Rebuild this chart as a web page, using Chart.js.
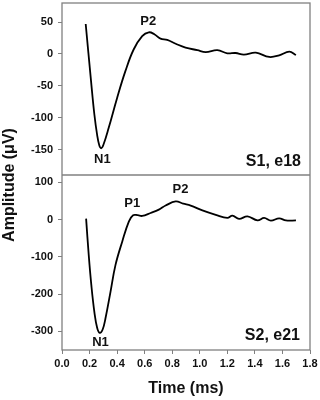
<!DOCTYPE html>
<html><head><meta charset="utf-8">
<script src="https://cdn.jsdelivr.net/npm/chart.js@4"></script>
<style>html,body{margin:0;padding:0;background:#fff}#wrap{position:relative;width:320px;height:400px}</style>
</head><body><div id="wrap"><canvas id="c" width="320" height="400"></canvas></div>
<script>
// ---- data ----
const timeS1 = [0.172,0.211,0.235,0.255,0.270,0.284,0.300,0.339,0.400,0.460,0.520,0.582,0.630,0.670,0.715,0.764,0.825,0.897,0.982,1.043,1.128,1.200,1.260,1.320,1.407,1.504,1.576,1.650,1.698];
const ampS1  = [47,-43,-95,-127,-143,-148,-143,-116,-69,-27,7,28,34,31,24,22,16,10,6,3,6,1,1.5,-1,2,-4.7,-2.2,3.6,-1.6];
const timeS2 = [0.175,0.194,0.213,0.235,0.255,0.274,0.295,0.315,0.352,0.388,0.437,0.485,0.516,0.550,0.582,0.643,0.703,0.752,0.825,0.880,0.934,1.019,1.116,1.200,1.237,1.285,1.346,1.419,1.467,1.516,1.576,1.625,1.698];
const ampS2  = [3,-95,-176,-248,-290,-304,-295,-266,-194,-122,-59,-5,12,12,10,18,27,38,49,43,38,25,13,4.6,10.8,2,9,-2,4.6,-2.7,3.6,-2,-2];
const xTicks = [0,0.2,0.4,0.6,0.8,1.0,1.2,1.4,1.6,1.8];
const yTicksS1 = [-150,-100,-50,0,50];
const yTicksS2 = [-300,-200,-100,0,100];
const peakNamesS1 = ['N1','P2'];
const peakTimeS1  = [0.293,0.626];
const peakAmpS1   = [-166,51];
const peakNamesS2 = ['N1','P1','P2'];
const peakTimeS2  = [0.279,0.51,0.86];
const peakAmpS2   = [-330,45,81];
const panelNames  = ['S1, e18','S2, e21'];
const xTitle = 'Time (ms)';
const yTitle = 'Amplitude (\u03bcV)';

const FONT = "'Liberation Sans', Arial, sans-serif";
const GRAY = '#808080';

function yAxis(tickVals, min, max, weight){
  return {
    type:'linear', position:'left', stack:'amp', stackWeight:weight, min:min, max:max,
    afterBuildTicks: s => { s.ticks = tickVals.map(v => ({value:v})); },
    afterFit: s => { s.width = 62; s.paddingTop = 0; s.paddingBottom = 0; },
    grid:{drawOnChartArea:false, tickLength:4, tickColor:GRAY, tickWidth:1},
    border:{display:false},
    ticks:{font:{family:FONT, weight:'bold', size:11}, color:'#111', padding:5}
  };
}

const annot = {
  id:'annot',
  afterDraw(chart){
    const ctx = chart.ctx, a = chart.chartArea, x = chart.scales.x;
    const yT = chart.scales.yTop, yB = chart.scales.yBot;
    ctx.save();
    // frame + separator
    ctx.strokeStyle = GRAY; ctx.lineWidth = 1.3;
    ctx.strokeRect(a.left, a.top, a.right - a.left, a.bottom - a.top);
    const sep = yT.bottom;
    ctx.beginPath(); ctx.moveTo(a.left, sep); ctx.lineTo(a.right, sep); ctx.stroke();
    // peak labels
    ctx.fillStyle = '#111'; ctx.textAlign = 'center'; ctx.textBaseline = 'middle';
    ctx.font = 'bold 13px ' + FONT;
    peakNamesS1.forEach((n,i) => ctx.fillText(n, x.getPixelForValue(peakTimeS1[i]), yT.getPixelForValue(peakAmpS1[i])));
    peakNamesS2.forEach((n,i) => ctx.fillText(n, x.getPixelForValue(peakTimeS2[i]), yB.getPixelForValue(peakAmpS2[i])));
    // panel labels
    ctx.font = 'bold 16px ' + FONT; ctx.textAlign = 'right';
    ctx.fillText(panelNames[0], a.right - 9, yT.bottom - 13);
    ctx.fillText(panelNames[1], a.right - 10, yB.bottom - 14);
    // y title
    ctx.translate(9.5, (a.top + a.bottom) / 2 + 8.5);
    ctx.rotate(-Math.PI / 2);
    ctx.textAlign = 'center';
    ctx.fillText(yTitle, 0, 0);
    ctx.restore();
  }
};

new Chart(document.getElementById('c'), {
  type:'line',
  data:{datasets:[
    {data: timeS1.map((t,i)=>({x:t, y:ampS1[i]})), yAxisID:'yTop', borderColor:'#000', borderWidth:1.8, pointRadius:0, tension:0.4, fill:false},
    {data: timeS2.map((t,i)=>({x:t, y:ampS2[i]})), yAxisID:'yBot', borderColor:'#000', borderWidth:1.8, pointRadius:0, tension:0.4, fill:false}
  ]},
  options:{
    responsive:false, animation:false, devicePixelRatio:1,
    layout:{padding:{top:3, right:10, left:0, bottom:0}},
    plugins:{legend:{display:false}, tooltip:{enabled:false}},
    scales:{
      x:{type:'linear', min:0, max:1.8,
        afterBuildTicks: s => { s.ticks = xTicks.map(v => ({value:v})); },
        afterFit: s => { s.height = 50; s.paddingLeft = 0; s.paddingRight = 0; },
        grid:{drawOnChartArea:false, tickLength:4, tickColor:GRAY, tickWidth:1},
        border:{display:false},
        ticks:{font:{family:FONT, weight:'bold', size:11}, color:'#111', padding:3, maxRotation:0,
          callback: v => Number(v).toFixed(1)},
        title:{display:true, text:xTitle, font:{family:FONT, weight:'bold', size:16}, color:'#111', padding:{top:0, bottom:2}}
      },
      yBot: yAxis(yTicksS2, -350, 120, 175),
      yTop: yAxis(yTicksS1, -190, 80, 172)
    }
  },
  plugins:[annot]
});
</script></body></html>
